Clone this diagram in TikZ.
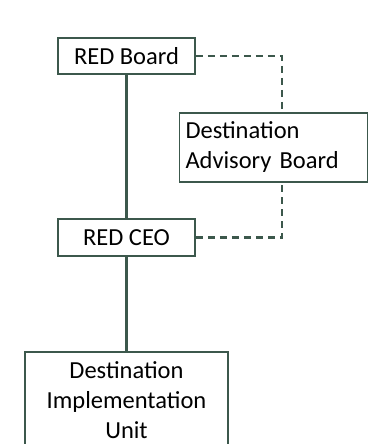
\documentclass[tikz,border=0pt]{standalone}
\usepackage{fontspec}
\setmainfont{Carlito}
\usetikzlibrary{positioning}

\definecolor{orgline}{RGB}{60,88,76}

\begin{document}
\begin{tikzpicture}[x=1pt, y=-1pt,
	unitbox/.style={draw=orgline, line width=1.6pt, fill=white, inner sep=0pt,
		font=\fontsize{24.5}{30}\selectfont},
	solidlink/.style={orgline, line width=2.3pt},
	advisorylink/.style={orgline, line width=2.3pt, dash pattern=on 7pt off 5pt}]
	
	% Page frame, bottom box runs off the edge
	\useasboundingbox (0,0) rectangle (368,444);
	\clip (0,0) rectangle (368,444);
	
	% Chain of command
	\node[unitbox, minimum width=137pt, minimum height=36pt] (board) at (126.5,56) {RED Board};
	\node[unitbox, minimum width=137pt, minimum height=37pt] (ceo) at (126.5,237.5) {RED CEO};
	\node[unitbox, minimum width=203pt, text width=203pt, align=center, anchor=north,
		inner ysep=10pt] (diu) at (126.5,351) {Destination\\Implementation\\Unit\\[12pt]};
	
	% Advisory board off to the side
	\node[unitbox, minimum width=187pt, minimum height=69pt, text width=176pt,
		align=left, inner xsep=6pt] (dab) at (273.5,147.5) {Destination\\Advisory Board};
	
	% Reporting lines
	\draw[solidlink] (board.south) -- (ceo.north);
	\draw[solidlink] (ceo.south) -- (diu.north);
	
	% Advisory lines (dashed)
	\draw[advisorylink] (board.east) -| ([xshift=8.5pt]dab.north);
	\draw[advisorylink] (ceo.east) -| ([xshift=8.5pt]dab.south);
	
\end{tikzpicture}
\end{document}
